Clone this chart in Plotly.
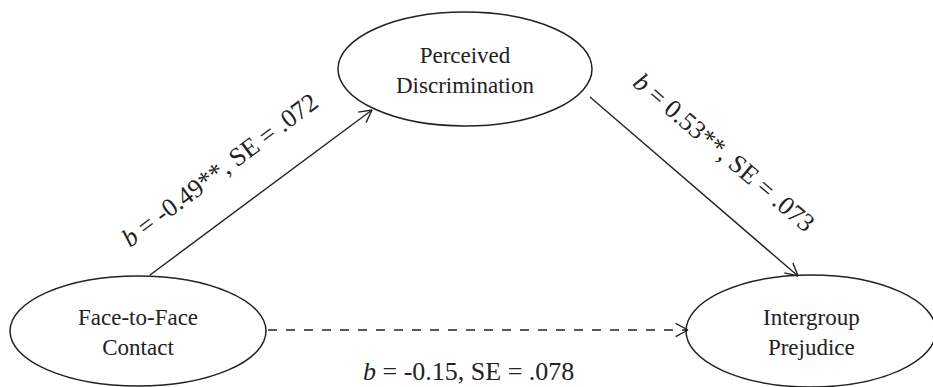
import math
import plotly.graph_objects as go

# ---- data ----
node_names = ["Face-to-Face<br>Contact", "Perceived<br>Discrimination", "Intergroup<br>Prejudice"]
path_from = [0, 1, 0]
path_to = [1, 2, 2]
path_b = [-0.49, 0.53, -0.15]
path_se = [0.072, 0.073, 0.078]
path_sig = ["**", "**", ""]

# ---- layout (pixel space) ----
W, H = 933, 387
node_cx = [138, 465, 811]
node_cy = [331, 69, 331]
node_rx = [128, 127, 125]
node_ry = [55, 57, 56]

edge_start = [(150, 275), (590, 97), (268, 330)]
edge_end = [(372, 110), (798, 276), (688, 330)]
edge_dash = [False, False, True]
label_pos = [(219, 170), (724, 152), (468, 371)]
label_angle = [-36.8, 40.5, 0]

FONT = "Liberation Serif, Times New Roman, serif"
INK = "#222"
HEAD_LEN, HEAD_ANG = 14, math.radians(28)

fig = go.Figure()
fig.add_trace(go.Scatter(x=[0, W], y=[0, H], mode="markers",
                         marker=dict(opacity=0), hoverinfo="skip", showlegend=False))

shapes = []
annotations = []
for i, name in enumerate(node_names):
    shapes.append(dict(type="circle", xref="x", yref="y",
                       x0=node_cx[i] - node_rx[i], x1=node_cx[i] + node_rx[i],
                       y0=node_cy[i] - node_ry[i], y1=node_cy[i] + node_ry[i],
                       line=dict(color=INK, width=1.5), fillcolor="white"))
    annotations.append(dict(x=node_cx[i], y=node_cy[i] + 1, xref="x", yref="y", text=name,
                            showarrow=False, font=dict(family=FONT, size=23, color=INK)))

for k in range(len(path_b)):
    (x0, y0), (x1, y1) = edge_start[k], edge_end[k]
    shapes.append(dict(type="line", xref="x", yref="y", x0=x0, y0=y0, x1=x1, y1=y1,
                       line=dict(color=INK, width=1.4, dash="dash" if edge_dash[k] else "solid")))
    ang = math.atan2(y1 - y0, x1 - x0)
    for s in (1, -1):
        a = ang + math.pi + s * HEAD_ANG
        shapes.append(dict(type="line", xref="x", yref="y", x0=x1, y0=y1,
                           x1=x1 + HEAD_LEN * math.cos(a), y1=y1 + HEAD_LEN * math.sin(a),
                           line=dict(color=INK, width=1.4)))
    se_txt = f"{path_se[k]:.3f}".lstrip("0")
    txt = f"<i>b</i> = {path_b[k]:.2f}{path_sig[k]}, SE = {se_txt}"
    lx, ly = label_pos[k]
    annotations.append(dict(x=lx, y=ly, xref="x", yref="y", text=txt, showarrow=False,
                            textangle=label_angle[k],
                            font=dict(family=FONT, size=26, color=INK)))

fig.update_layout(
    width=W, height=H, margin=dict(l=0, r=0, t=0, b=0),
    paper_bgcolor="white", plot_bgcolor="white",
    xaxis=dict(range=[0, W], visible=False, fixedrange=True),
    yaxis=dict(range=[H, 0], visible=False, fixedrange=True),
    shapes=shapes, annotations=annotations, showlegend=False,
)
fig.write_html("out.html", config={"displayModeBar": False},
               post_script="document.body.style.margin='0';")
